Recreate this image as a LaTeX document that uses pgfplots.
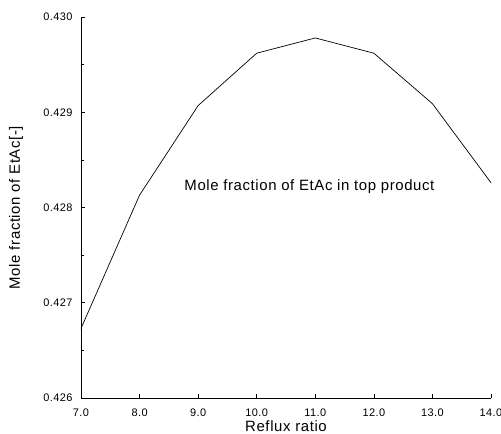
\documentclass[border=0pt]{standalone}
\usepackage{fontspec}
\setmainfont[LetterSpace=4]{Liberation Sans}
\usepackage{pgfplots}
\pgfplotsset{compat=1.18}

\begin{document}
\begin{tikzpicture}
\begin{axis}[
  scale only axis,
  width=410bp, height=381bp,
  xmin=7, xmax=14, ymin=0.426, ymax=0.430,
  axis x line*=bottom, axis y line*=left,
  axis line style={line width=0.7pt},
  tick align=inside,
  major tick length=4bp, minor tick length=3bp,
  tick style={black, line width=0.6pt},
  xtick={7,8,...,14},
  ytick={0.426,0.427,0.428,0.429,0.430},
  minor y tick num=1,
  scaled y ticks=false,
  /pgf/number format/assume math mode=true,
  xticklabel style={font=\fontsize{11}{12}\selectfont, yshift=-7bp,
    /pgf/number format/fixed, /pgf/number format/fixed zerofill, /pgf/number format/precision=1},
  yticklabel style={font=\fontsize{11}{12}\selectfont, xshift=-5bp,
    /pgf/number format/fixed, /pgf/number format/fixed zerofill, /pgf/number format/precision=3},
  xlabel={Reflux ratio},
  ylabel={Mole fraction of EtAc[-]},
  label style={font=\fontsize{15}{18}\selectfont},
  xlabel style={at={(axis description cs:0.5,-0.0735)}, anchor=center},
  ylabel style={at={(axis description cs:-0.1585,0.5)}, anchor=center},
  clip=false,
]
\addplot[black, line width=0.7pt] coordinates {
  (7,0.42673) (8,0.42813) (9,0.42907) (10,0.42962)
  (11,0.42978) (12,0.42962) (13,0.42909) (14,0.42826)
};
\node[font=\fontsize{15}{18}\selectfont] at (axis cs:10.9,0.42822) {Mole fraction of EtAc in top product};
\end{axis}
\pgfresetboundingbox
\path (current axis.south west) ++(-81bp,-36bp) coordinate (bbA);
\path (current axis.north east) ++(10bp,17bp) coordinate (bbB);
\path[use as bounding box] (bbA) rectangle (bbB);
\end{tikzpicture}
\end{document}
